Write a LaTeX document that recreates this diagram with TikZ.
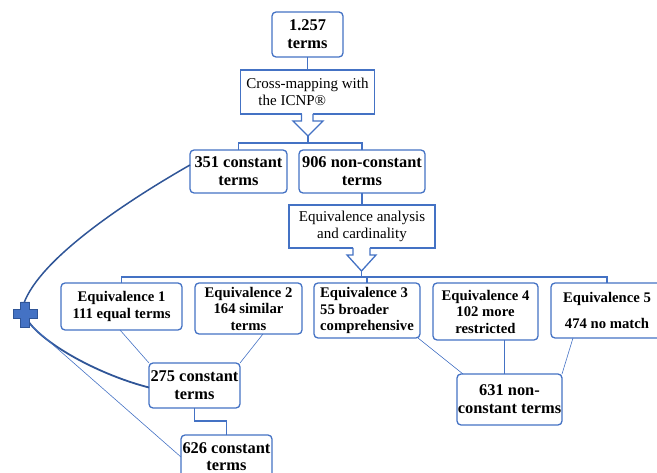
\documentclass[tikz,border=0pt]{standalone}
\usepackage{fontspec}
\setmainfont{Liberation Serif}
\usetikzlibrary{calc}
\definecolor{boxblue}{HTML}{4472C4}
\definecolor{darkblue}{HTML}{2F5597}
\begin{document}
\begin{tikzpicture}[x=1pt,y=-1pt,
  tbox/.style={draw=boxblue, line width=1.3pt, rounded corners=4pt, fill=white, inner sep=0pt, outer sep=0pt, align=center, font=\bfseries\fontsize{16.4}{18}\selectfont},
  ebox/.style={tbox, font=\bfseries\fontsize{14.7}{16.5}\selectfont},
  pbox/.style={draw=boxblue, line width=1.3pt, fill=white, inner sep=0pt, outer sep=0pt, align=center, font=\fontsize{15}{16.5}\selectfont},
  bline/.style={draw=boxblue, line width=1.3pt},
  tline/.style={draw=boxblue, line width=0.6pt},
  curve/.style={draw=darkblue, line width=1.5pt},
]
\useasboundingbox (0,0) rectangle (657,473);

% top part
\node[tbox, minimum width=71pt, minimum height=45pt] (n1257) at (307.5,34.5) {1.257\\terms};
\node[pbox, minimum width=134pt, minimum height=44pt, align=left] (cross) at (307.5,92) {Cross-mapping with\\\hspace{12pt}the ICNP®};
\draw[bline] (n1257.south) -- (cross.north);
\fill[white] (301.5,112) rectangle (313,116);
\draw[bline, line join=miter, fill=white] (301.5,114) -- (301.5,121) -- (293,121) -- (308,136) -- (323,121) -- (313,121) -- (313,114);
\coordinate (tip1) at (308,136);
\coordinate (br1) at (308,143);

\node[tbox, minimum width=97pt, minimum height=43pt] (c351) at (238.5,171.5) {351 constant\\terms};
\node[tbox, minimum width=126pt, minimum height=43pt] (c906) at (362,171.5) {906 non-constant\\terms};
\draw[bline] (tip1) -- (br1);
\draw[bline] (c351.north) |- (br1) -| (c906.north);

\node[pbox, minimum width=146pt, minimum height=43pt] (eqa) at (362,226.5) {Equivalence analysis\\and cardinality};
\draw[bline] (c906.south) -- (eqa.north);
\fill[white] (353,246) rectangle (370,250);
\draw[bline, line join=miter, fill=white] (353,248) -- (353,255) -- (347,255) -- (361.5,271) -- (376,255) -- (370,255) -- (370,248);
\coordinate (tip2) at (361.5,271);
\coordinate (br2) at (361.5,277);

% equivalence boxes
\node[ebox, minimum width=121pt, minimum height=47pt] (e1) at (121.5,306.5) {Equivalence 1\\111 equal terms};
\node[ebox, minimum width=107pt, minimum height=51pt] (e2) at (248.5,308.5) {Equivalence 2\\164 similar\\terms};
\node[ebox, minimum width=106pt, minimum height=55pt, align=left] (e3) at (367,310.5) {Equivalence 3\\55 broader\\comprehensive};
\node[ebox, minimum width=105pt, minimum height=57pt] (e4) at (485.5,311.5) {Equivalence 4\\102 more\\restricted};
\node[ebox, minimum width=112pt, minimum height=55pt] (e5) at (607,310.5) {Equivalence 5\\[9pt]474 no match};

\draw[bline] (tip2) -- (br2);
\draw[bline] (e1.north) |- (br2) -| (e5.north);
\draw[bline] (e3.north) -- (e3.north |- br2);

% result boxes
\node[tbox, minimum width=91pt, minimum height=45pt] (c275) at (194.5,385.5) {275 constant\\terms};
\node[tbox, minimum width=91pt, minimum height=44pt, font=\bfseries\fontsize{16.4}{17}\selectfont] (c626) at (226.5,457) {626 constant\\terms};
\node[tbox, minimum width=105pt, minimum height=51pt] (c631) at (509.5,399.5) {631 non-\\constant terms};
\draw[bline] (c275.south) -- ++(0,13) -| (c626.north);

\draw[tline] ([xshift=-1.5pt]e1.south) -- (c275.north west);
\draw[tline] ([xshift=14.5pt]e2.south) -- (c275.north east);
\draw[tline] ([xshift=-2pt]e3.south east) -- ([xshift=6pt]c631.north west);
\draw[tline] ([xshift=18.5pt]e4.south) -- ([xshift=-5.5pt]c631.north);
\draw[tline] ([xshift=-34pt]e5.south) -- (c631.north east);

% plus and curves
\coordinate (p1) at (24,303);
\coordinate (p2) at (28,321);
\coordinate (p3) at (27,322);
\draw[curve] (p1) .. controls (40,260) and (120,205) .. ([yshift=6.5pt]c351.west);
\draw[curve, line width=1.8pt] (p2) .. controls (45,345) and (100,375) .. ([yshift=-2pt]c275.west);
\draw[tline] (p3) -- (c626.west);
\fill[boxblue, draw=darkblue, line width=0.5pt] (20.5,302) -- (29.5,302) -- (29.5,309.5) -- (37,309.5) -- (37,318.5) -- (29.5,318.5) -- (29.5,327) -- (20.5,327) -- (20.5,318.5) -- (13,318.5) -- (13,309.5) -- (20.5,309.5) -- cycle;
\coordinate (plus) at (25,314.5);
\end{tikzpicture}
\end{document}
